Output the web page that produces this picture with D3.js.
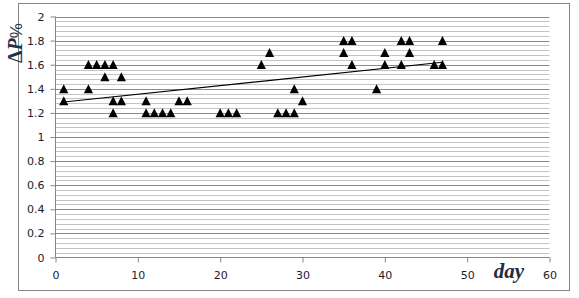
<!DOCTYPE html>
<html><head><meta charset="utf-8">
<script src="https://cdn.jsdelivr.net/npm/d3@7"></script>
<style>html,body{margin:0;padding:0;background:#fff;}svg{display:block;}</style>
</head><body>
<script>
const days = [1,1,4,4,5,6,6,7,7,7,8,8,11,11,12,13,14,15,16,20,21,22,25,26,27,28,29,29,30,35,35,36,36,39,40,40,42,42,43,43,46,47,47];
const dP   = [1.4,1.3,1.4,1.6,1.6,1.6,1.5,1.6,1.3,1.2,1.5,1.3,1.3,1.2,1.2,1.2,1.2,1.3,1.3,1.2,1.2,1.2,1.6,1.7,1.2,1.2,1.2,1.4,1.3,1.8,1.7,1.8,1.6,1.4,1.7,1.6,1.8,1.6,1.8,1.7,1.6,1.6,1.8];
const trendDays = [1,47];
const trendVals = [1.29,1.62];
const xTicks = [0,10,20,30,40,50,60];
const yTicks = [0,0.2,0.4,0.6,0.8,1,1.2,1.4,1.6,1.8,2];
const yTickLabels = ["0","0.2","0.4","0.6","0.8","1","1.2","1.4","1.6","1.8","2"];

const W=579,H=298;
const svg=d3.select("body").append("svg").attr("width",W).attr("height",H);
svg.append("rect").attr("x",18.5).attr("y",3.5).attr("width",551).attr("height",287)
  .attr("fill","#fff").attr("stroke","#868686").attr("stroke-width",1);

const x=d3.scaleLinear().domain([0,60]).range([55.5,549.5]);
const y=d3.scaleLinear().domain([0,2]).range([257.5,16.5]);

// minor gridlines
const minor=d3.range(0,2.0001,0.04).filter(v=>Math.abs(v/0.2-Math.round(v/0.2))>1e-6);
svg.append("g").selectAll("line").data(minor).join("line")
  .attr("x1",x(0)).attr("x2",x(60))
  .attr("y1",d=>Math.round(y(d))+0.5).attr("y2",d=>Math.round(y(d))+0.5)
  .attr("stroke","#c4c4c4").attr("stroke-width",1);
// major gridlines
svg.append("g").selectAll("line").data(yTicks.slice(1)).join("line")
  .attr("x1",x(0)).attr("x2",x(60))
  .attr("y1",d=>Math.round(y(d))+0.5).attr("y2",d=>Math.round(y(d))+0.5)
  .attr("stroke","#8c8c8c").attr("stroke-width",1);

// axes
const yAxis=d3.axisLeft(y).tickValues(yTicks).tickFormat((d,i)=>yTickLabels[i]).tickSize(5).tickPadding(6);
const gy=svg.append("g").attr("transform",`translate(${x(0)},0)`).call(yAxis);
const xAxis=d3.axisBottom(x).tickValues(xTicks).tickFormat(d3.format("d")).tickSize(5).tickPadding(9);
const gx=svg.append("g").attr("transform",`translate(0,${y(0)})`).call(xAxis);
[gx,gy].forEach(g=>{
  g.select(".domain").attr("stroke","#868686");
  g.selectAll(".tick line").attr("stroke","#868686");
  g.selectAll(".tick text").attr("fill","#1b1b2b").style("font-family","'DejaVu Sans',Verdana,sans-serif").style("font-size","11px");
});
gx.select(".domain").attr("d",`M${x(0)},0H${x(60)}`);
gy.select(".domain").attr("d",`M0,${y(0)}V${y(2)}`);

// trendline
svg.append("line").attr("x1",x(trendDays[0])).attr("y1",y(trendVals[0]))
  .attr("x2",x(trendDays[1])).attr("y2",y(trendVals[1]))
  .attr("stroke","#000").attr("stroke-width",1.1);

// markers
const tri="M0,-4.6L4.6,4.4L-4.6,4.4Z";
svg.append("g").selectAll("path").data(days.map((d,i)=>[d,dP[i]])).join("path")
  .attr("d",tri).attr("transform",d=>`translate(${x(d[0])},${y(d[1])})`).attr("fill","#000");

// axis titles
const yt=svg.append("text").attr("transform","translate(22,43) rotate(-90)")
  .attr("text-anchor","middle").attr("fill","#1f3050")
  .style("font-family","'Liberation Serif','DejaVu Serif',serif").style("font-size","20px");
yt.append("tspan").style("font-weight","bold").text("Δ");
yt.append("tspan").style("font-weight","bold").style("font-style","italic").text("P");
yt.append("tspan").style("font-family","'Liberation Sans',sans-serif").style("font-size","17px").text("%");
svg.append("text").attr("x",509).attr("y",278).attr("text-anchor","middle").attr("fill","#1f2a44")
  .style("font-family","'Liberation Serif','DejaVu Serif',serif").style("font-size","21px")
  .style("font-weight","bold").style("font-style","italic").text("day");
</script>
</body></html>
